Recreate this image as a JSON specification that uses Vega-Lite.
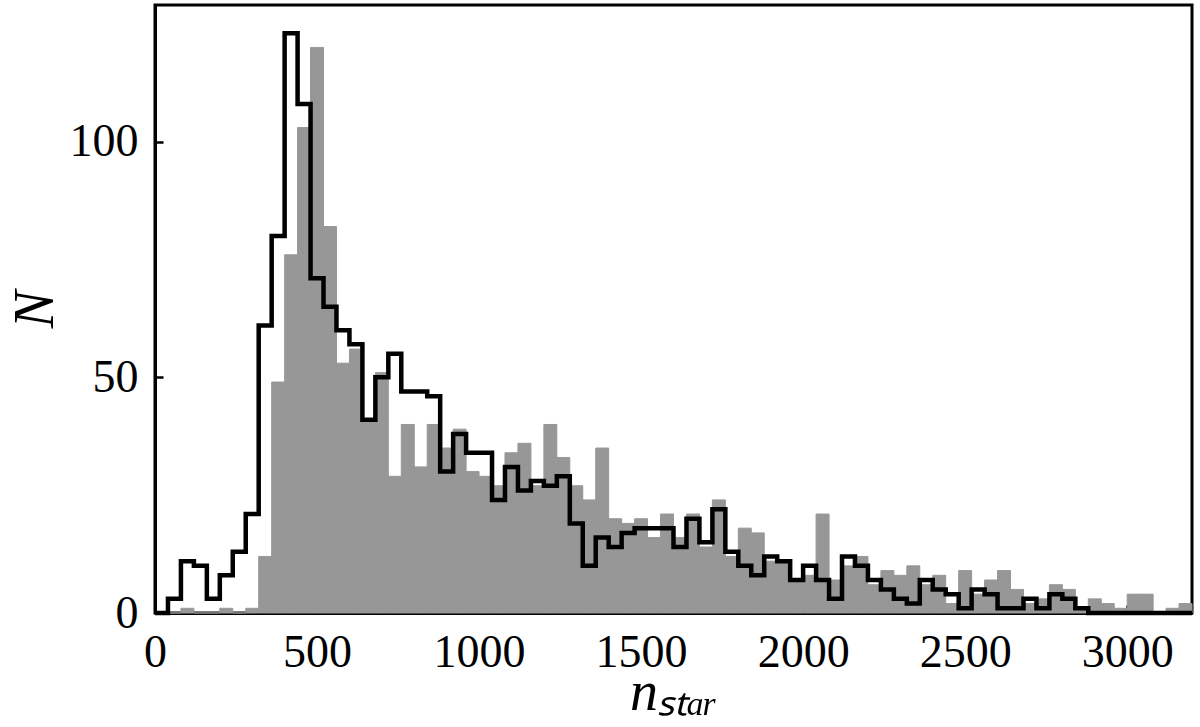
{
  "$schema": "https://vega.github.io/schema/vega-lite/v6.json",
  "width": 1037,
  "height": 608,
  "autosize": {"type": "none"},
  "padding": {"left": 155, "top": 5, "right": 8, "bottom": 114},
  "background": "white",
  "config": {
    "font": "Liberation Serif",
    "view": {"stroke": "black", "strokeWidth": 3},
    "axis": {
      "grid": false,
      "domainColor": "black",
      "domainWidth": 3,
      "tickColor": "black",
      "tickWidth": 2.5,
      "tickSize": -8,
      "labelPadding": 25,
      "labelColor": "black",
      "labelFontSize": 46,
      "labelFont": "Liberation Serif",
      "labelFlush": false,
      "labelOverlap": false,
      "titleColor": "black",
      "titleFont": "Liberation Serif",
      "titleFontSize": 56,
      "titleFontWeight": "normal",
      "titleFontStyle": "italic",
      "zindex": 1
    }
  },
  "data": {
    "values": [
      {"lo": 0, "hi": 40, "gray": 0, "black": 0},
      {"lo": 40, "hi": 80, "gray": 0, "black": 3},
      {"lo": 80, "hi": 120, "gray": 1, "black": 11},
      {"lo": 120, "hi": 160, "gray": 0, "black": 10},
      {"lo": 160, "hi": 200, "gray": 0, "black": 3},
      {"lo": 200, "hi": 240, "gray": 1, "black": 8},
      {"lo": 240, "hi": 280, "gray": 0, "black": 13},
      {"lo": 280, "hi": 320, "gray": 1, "black": 21},
      {"lo": 320, "hi": 360, "gray": 12, "black": 61},
      {"lo": 360, "hi": 400, "gray": 49, "black": 80},
      {"lo": 400, "hi": 440, "gray": 76, "black": 123},
      {"lo": 440, "hi": 480, "gray": 103, "black": 108},
      {"lo": 480, "hi": 520, "gray": 120, "black": 71},
      {"lo": 520, "hi": 560, "gray": 82, "black": 65},
      {"lo": 560, "hi": 600, "gray": 53, "black": 60},
      {"lo": 600, "hi": 640, "gray": 56, "black": 57},
      {"lo": 640, "hi": 680, "gray": 41, "black": 41},
      {"lo": 680, "hi": 720, "gray": 51, "black": 50},
      {"lo": 720, "hi": 760, "gray": 29, "black": 55},
      {"lo": 760, "hi": 800, "gray": 40, "black": 47},
      {"lo": 800, "hi": 840, "gray": 31, "black": 47},
      {"lo": 840, "hi": 880, "gray": 40, "black": 46},
      {"lo": 880, "hi": 920, "gray": 35, "black": 30},
      {"lo": 920, "hi": 960, "gray": 39, "black": 38},
      {"lo": 960, "hi": 1000, "gray": 30, "black": 34},
      {"lo": 1000, "hi": 1040, "gray": 29, "black": 34},
      {"lo": 1040, "hi": 1080, "gray": 27, "black": 24},
      {"lo": 1080, "hi": 1120, "gray": 34, "black": 31},
      {"lo": 1120, "hi": 1160, "gray": 36, "black": 26},
      {"lo": 1160, "hi": 1200, "gray": 27, "black": 28},
      {"lo": 1200, "hi": 1240, "gray": 40, "black": 27},
      {"lo": 1240, "hi": 1280, "gray": 33, "black": 29},
      {"lo": 1280, "hi": 1320, "gray": 27, "black": 19},
      {"lo": 1320, "hi": 1360, "gray": 24, "black": 10},
      {"lo": 1360, "hi": 1400, "gray": 35, "black": 16},
      {"lo": 1400, "hi": 1440, "gray": 20, "black": 14},
      {"lo": 1440, "hi": 1480, "gray": 19, "black": 17},
      {"lo": 1480, "hi": 1520, "gray": 20, "black": 18},
      {"lo": 1520, "hi": 1560, "gray": 16, "black": 18},
      {"lo": 1560, "hi": 1600, "gray": 21, "black": 18},
      {"lo": 1600, "hi": 1640, "gray": 16, "black": 14},
      {"lo": 1640, "hi": 1680, "gray": 21, "black": 20},
      {"lo": 1680, "hi": 1720, "gray": 14, "black": 15},
      {"lo": 1720, "hi": 1760, "gray": 24, "black": 22},
      {"lo": 1760, "hi": 1800, "gray": 12, "black": 13},
      {"lo": 1800, "hi": 1840, "gray": 18, "black": 10},
      {"lo": 1840, "hi": 1880, "gray": 17, "black": 8},
      {"lo": 1880, "hi": 1920, "gray": 11, "black": 12},
      {"lo": 1920, "hi": 1960, "gray": 11, "black": 11},
      {"lo": 1960, "hi": 2000, "gray": 7, "black": 7},
      {"lo": 2000, "hi": 2040, "gray": 8, "black": 10},
      {"lo": 2040, "hi": 2080, "gray": 21, "black": 7},
      {"lo": 2080, "hi": 2120, "gray": 7, "black": 3},
      {"lo": 2120, "hi": 2160, "gray": 10, "black": 12},
      {"lo": 2160, "hi": 2200, "gray": 12, "black": 10},
      {"lo": 2200, "hi": 2240, "gray": 6, "black": 7},
      {"lo": 2240, "hi": 2280, "gray": 9, "black": 5},
      {"lo": 2280, "hi": 2320, "gray": 8, "black": 3},
      {"lo": 2320, "hi": 2360, "gray": 10, "black": 2},
      {"lo": 2360, "hi": 2400, "gray": 6, "black": 7},
      {"lo": 2400, "hi": 2440, "gray": 8, "black": 5},
      {"lo": 2440, "hi": 2480, "gray": 2, "black": 4},
      {"lo": 2480, "hi": 2520, "gray": 9, "black": 1},
      {"lo": 2520, "hi": 2560, "gray": 4, "black": 5},
      {"lo": 2560, "hi": 2600, "gray": 7, "black": 4},
      {"lo": 2600, "hi": 2640, "gray": 9, "black": 1},
      {"lo": 2640, "hi": 2680, "gray": 5, "black": 1},
      {"lo": 2680, "hi": 2720, "gray": 2, "black": 3},
      {"lo": 2720, "hi": 2760, "gray": 3, "black": 1},
      {"lo": 2760, "hi": 2800, "gray": 6, "black": 4},
      {"lo": 2800, "hi": 2840, "gray": 5, "black": 3},
      {"lo": 2840, "hi": 2880, "gray": 1, "black": 1},
      {"lo": 2880, "hi": 2920, "gray": 3, "black": 0},
      {"lo": 2920, "hi": 2960, "gray": 2, "black": 0},
      {"lo": 2960, "hi": 3000, "gray": 1, "black": 0},
      {"lo": 3000, "hi": 3040, "gray": 4, "black": 0},
      {"lo": 3040, "hi": 3080, "gray": 4, "black": 0},
      {"lo": 3080, "hi": 3120, "gray": 0, "black": 0},
      {"lo": 3120, "hi": 3160, "gray": 1, "black": 0},
      {"lo": 3160, "hi": 3200, "gray": 2, "black": 0},
      {"lo": 3200, "black": 0}
    ]
  },
  "encoding": {
    "x": {
      "field": "lo",
      "type": "quantitative",
      "scale": {"domain": [0, 3200], "nice": false, "zero": false},
      "axis": {"values": [0, 500, 1000, 1500, 2000, 2500, 3000], "format": "d", "title": "nₛₜₐᵣ", "titleBaseline": "alphabetic", "titleY": 96}
    }
  },
  "layer": [
    {
      "transform": [{"filter": "isValid(datum.hi)"}],
      "mark": {"type": "rect", "color": "#979797", "stroke": "#979797", "strokeWidth": 1},
      "encoding": {
        "x2": {"field": "hi"},
        "y": {
          "field": "gray",
          "type": "quantitative",
          "scale": {"domain": [0, 129], "nice": false},
          "axis": {"values": [0, 50, 100], "format": "d", "title": "N", "titlePadding": 5}
        },
        "y2": {"datum": 0}
      }
    },
    {
      "mark": {"type": "line", "interpolate": "step-after", "color": "black", "strokeWidth": 4.5, "strokeJoin": "miter", "strokeCap": "butt"},
      "encoding": {
        "y": {"field": "black", "type": "quantitative"}
      }
    }
  ]
}
